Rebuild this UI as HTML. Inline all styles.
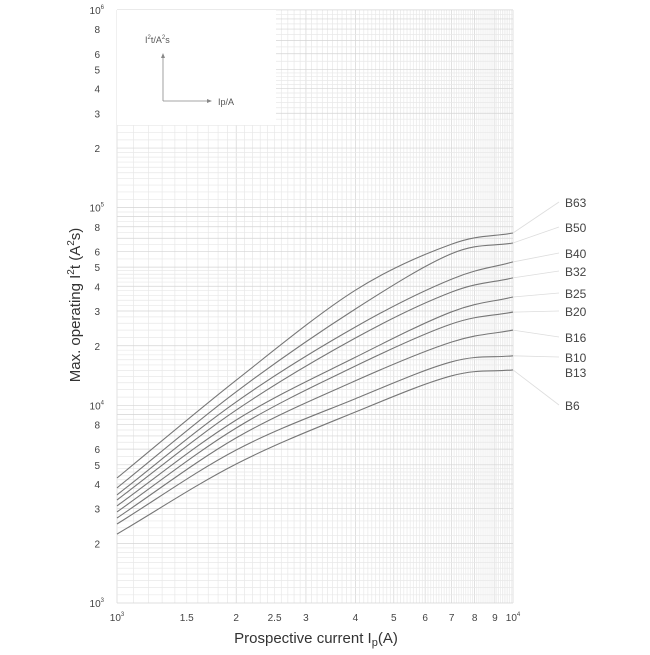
<!DOCTYPE html>
<html><head><meta charset="utf-8"><style>
body{margin:0;background:#fff;font-family:"Liberation Sans",sans-serif}
svg text{font-family:"Liberation Sans",sans-serif}
</style></head><body>
<svg id="chart" width="650" height="650" viewBox="0 0 650 650" xmlns="http://www.w3.org/2000/svg">
<g id="grid"></g>
<rect x="117" y="10" width="159" height="115" fill="#fff"/>
<g>
<text x="145" y="43" font-size="9" fill="#555">I<tspan dy="-4" font-size="6">2</tspan><tspan dy="4">t/A</tspan><tspan dy="-4" font-size="6">2</tspan><tspan dy="4">s</tspan></text>
<line x1="163" y1="56" x2="163" y2="101" stroke="#888" stroke-width="0.8"/>
<path d="M161 58 L163 53 L165 58Z" fill="#888"/>
<line x1="163" y1="101" x2="208" y2="101" stroke="#888" stroke-width="0.8"/>
<path d="M207 99 L212 101 L207 103Z" fill="#888"/>
<text x="218" y="105" font-size="9" fill="#555">Ip/A</text>
</g>
<g id="ticks"></g>
<g id="curves"></g>
<g id="labels"></g>
<text x="316" y="643" font-size="15" fill="#333" text-anchor="middle">Prospective current I<tspan font-size="11" dy="3">p</tspan><tspan dy="-3">(A)</tspan></text>
<text transform="translate(80,305) rotate(-90)" font-size="15" fill="#333" text-anchor="middle">Max. operating I<tspan font-size="10" dy="-6">2</tspan><tspan dy="6">t  (A</tspan><tspan font-size="10" dy="-6">2</tspan><tspan dy="6">s)</tspan></text>
</svg>
<script>
const xCurrents=[1000,2000,4000,7000,10000];
const seriesNames=["B63","B50","B40","B32","B25","B20","B16","B10","B6"];
const sB63=[4290,13400,38200,65400,74400];
const sB50=[3820,11700,30700,58500,66200];
const sB40=[3520,10400,24900,43500,53100];
const sB32=[3320,9460,21900,37400,44100];
const sB25=[3100,8430,17500,29700,35300];
const sB20=[2890,7680,15800,25800,29600];
const sB16=[2690,6840,13300,20900,24000];
const sB10=[2510,5940,10800,16600,17800];
const sB6=[2230,5050,9250,14100,15100];
const labelNames=["B63","B50","B40","B32","B25","B20","B16","B10","B13","B6"];
const xTickVals=[1000,1500,2000,2500,3000,4000,5000,6000,7000,8000,9000,10000];
const xTickText=["","1.5","2","2.5","3","4","5","6","7","8","9",""];
const yTickMults=[2,3,4,5,6,8];

const NS="http://www.w3.org/2000/svg";
const X0=117,X1=513,Y0=603,DEC=197.7;
const xs=v=>X0+(Math.log10(v)-3)*(X1-X0);
const ys=v=>Y0-(Math.log10(v)-3)*DEC;
function mk(tag,attrs,parent){const e=document.createElementNS(NS,tag);for(const k in attrs)e.setAttribute(k,attrs[k]);parent.appendChild(e);return e;}

const grid=document.getElementById('grid');
for(let v=1000;v<=10000;v+=100){
  const l=mk('line',{x1:xs(v),x2:xs(v),y1:10,y2:Y0,stroke:(v%1000===0)?'#d4d4d4':'#e8e8e8','stroke-width':0.7},grid);
  
  
}
for(let d=3;d<6;d++){
  const base=Math.pow(10,d);
  const m=[];
  for(let a=1;a<2;a+=0.1)m.push(a);
  for(let a=2;a<5;a+=0.2)m.push(a);
  for(let a=5;a<10;a+=0.5)m.push(a);
  m.forEach(a=>{
    const y=ys(base*a);
    const l=mk('line',{x1:X0,x2:X1,y1:y,y2:y,stroke:(Math.abs(a-Math.round(a))<1e-6)?'#d4d4d4':'#e8e8e8','stroke-width':0.7},grid);
    
    
  });
}
const tl=mk('line',{x1:X0,x2:X1,y1:ys(1e6),y2:ys(1e6),stroke:'#d4d4d4','stroke-width':0.7},grid);



const ticks=document.getElementById('ticks');
xTickVals.forEach((v,i)=>{
  const t=mk('text',{x:xs(v),y:621,'font-size':10,fill:'#444','text-anchor':'middle'},ticks);
  
  
  if(i===0||i===xTickVals.length-1){t.innerHTML='10<tspan dy="-5" font-size="6">'+Math.round(Math.log10(v))+'</tspan>';}
  else t.textContent=xTickText[i];
});
for(let d=3;d<=6;d++){
  const t=mk('text',{x:104,y:ys(Math.pow(10,d))+4,'font-size':10,fill:'#444','text-anchor':'end'},ticks);
  
  
  t.innerHTML='10<tspan dy="-5" font-size="6">'+d+'</tspan>';
  if(d<6){
    yTickMults.forEach(m=>{
      const u=mk('text',{x:100,y:ys(m*Math.pow(10,d))+4,'font-size':10,fill:'#444','text-anchor':'end'},ticks);
      
      
      u.textContent=m;
    });
  }
}

const seriesVals=[sB63,sB50,sB40,sB32,sB25,sB20,sB16,sB10,sB6];
const curves=document.getElementById('curves');
function smoothPath(pts){
  const n=pts.length;
  const first=[2*pts[0][0]-pts[1][0],2*pts[0][1]-pts[1][1]];
  const last=[2*pts[n-1][0]-pts[n-2][0],2*pts[n-1][1]-pts[n-2][1]];
  let d='M'+pts[0][0].toFixed(1)+' '+pts[0][1].toFixed(1);
  for(let i=0;i<n-1;i++){
    const p0=i>0?pts[i-1]:first,p1=pts[i],p2=pts[i+1],p3=(i+2<n)?pts[i+2]:last;
    const c1=[p1[0]+(p2[0]-p0[0])/6,p1[1]+(p2[1]-p0[1])/6];
    const c2=[p2[0]-(p3[0]-p1[0])/6,p2[1]-(p3[1]-p1[1])/6];
    d+=' C'+c1[0].toFixed(1)+' '+c1[1].toFixed(1)+' '+c2[0].toFixed(1)+' '+c2[1].toFixed(1)+' '+p2[0].toFixed(1)+' '+p2[1].toFixed(1);
  }
  return d;
}
const ends={};
seriesVals.forEach((vals,i)=>{
  const pts=vals.map((v,j)=>[xs(xCurrents[j]),ys(v)]);
  const p=mk('path',{d:smoothPath(pts),fill:'none',stroke:'#777','stroke-width':1.1},curves);
  
  
  ends[seriesNames[i]]=pts[pts.length-1][1];
});

const labels=document.getElementById('labels');
const labelY=[207,232,258,276,298,316,342,362,377,410];
labelNames.forEach((n,i)=>{
  if(ends[n]!==undefined){
    const l=mk('line',{x1:X1,y1:ends[n],x2:559,y2:labelY[i]-5,stroke:'#ddd','stroke-width':0.8},labels);
    
    
  }
  const t=mk('text',{x:565,y:labelY[i],'font-size':12,fill:'#444'},labels);
  
  
  t.textContent=n;
});
</script>
</body></html>
